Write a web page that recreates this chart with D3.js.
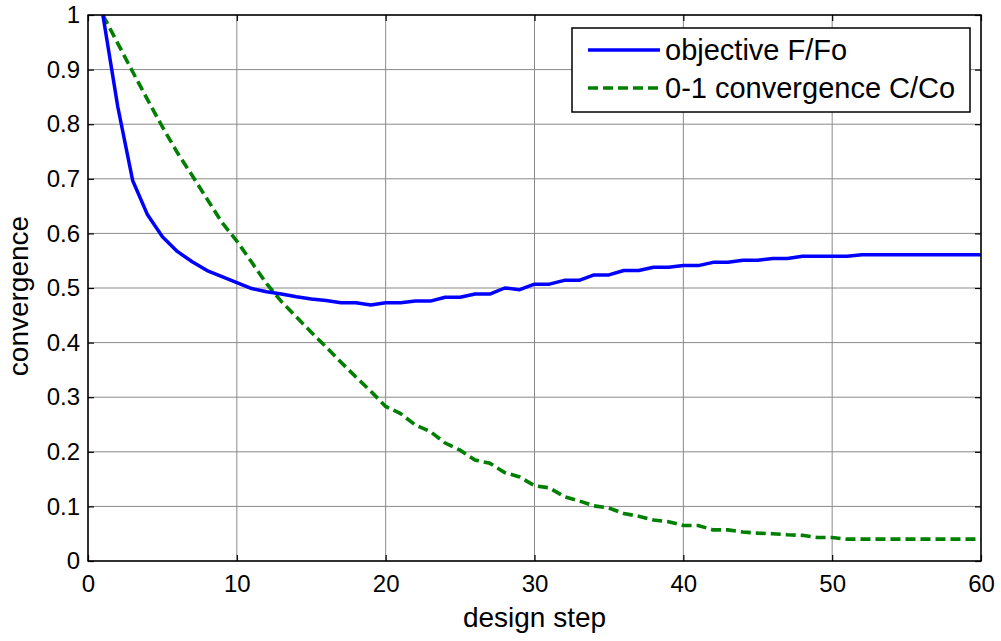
<!DOCTYPE html>
<html>
<head>
<meta charset="utf-8">
<script src="https://cdnjs.cloudflare.com/ajax/libs/d3/7.8.5/d3.min.js"></script>
<style>
  body { margin: 0; background: #fff; }
  text { font-family: "Liberation Sans", Arial, sans-serif; fill: #000; }
</style>
</head>
<body>
<div class="chart"></div>
<script>
var svgWidth = 1001;
var svgHeight = 641;

var margin = { top: 15, right: 20, bottom: 80, left: 88 };
var width = 981 - margin.left;
var height = 561 - margin.top;

// design steps 1..60
var steps = d3.range(1, 61);

// objective F/Fo
var objective = [
  1.000, 0.832, 0.697, 0.634, 0.594, 0.567, 0.548, 0.532, 0.521, 0.510,
  0.499, 0.493, 0.489, 0.484, 0.480, 0.477, 0.473, 0.473, 0.469, 0.473,
  0.473, 0.476, 0.476, 0.483, 0.483, 0.489, 0.489, 0.500, 0.497, 0.507,
  0.507, 0.514, 0.514, 0.524, 0.524, 0.532, 0.532, 0.538, 0.538, 0.541,
  0.541, 0.547, 0.547, 0.551, 0.551, 0.554, 0.554, 0.558, 0.558, 0.558,
  0.558, 0.561, 0.561, 0.561, 0.561, 0.561, 0.561, 0.561, 0.561, 0.561
];

// 0-1 convergence C/Co
var convergence = [
  1.000, 0.948, 0.896, 0.845, 0.795, 0.748, 0.706, 0.663, 0.620, 0.586,
  0.547, 0.508, 0.475, 0.447, 0.419, 0.392, 0.364, 0.337, 0.311, 0.283,
  0.270, 0.249, 0.237, 0.216, 0.203, 0.185, 0.179, 0.162, 0.154, 0.138,
  0.134, 0.118, 0.110, 0.101, 0.097, 0.087, 0.082, 0.075, 0.072, 0.065,
  0.065, 0.057, 0.057, 0.053, 0.051, 0.050, 0.048, 0.047, 0.043, 0.043,
  0.040, 0.040, 0.040, 0.040, 0.040, 0.040, 0.040, 0.040, 0.040, 0.040
];

var xTicks = [0, 10, 20, 30, 40, 50, 60];
var yTicks = [0, 0.1, 0.2, 0.3, 0.4, 0.5, 0.6, 0.7, 0.8, 0.9, 1];

var seriesNames = ["objective F/Fo", "0-1 convergence C/Co"];

var svg = d3.select(".chart")
  .append("svg")
  .attr("width", svgWidth)
  .attr("height", svgHeight);

var chartGroup = svg.append("g")
  .attr("transform", `translate(${margin.left}, ${margin.top})`);

var xScale = d3.scaleLinear().domain([0, 60]).range([0, width]);
var yScale = d3.scaleLinear().domain([0, 1]).range([height, 0]);

// grid lines
chartGroup.append("g")
  .selectAll("line")
  .data(xTicks)
  .enter()
  .append("line")
  .attr("x1", d => xScale(d)).attr("x2", d => xScale(d))
  .attr("y1", 0).attr("y2", height)
  .attr("stroke", "#8a8a8a")
  .attr("stroke-width", 1);

chartGroup.append("g")
  .selectAll("line")
  .data(yTicks)
  .enter()
  .append("line")
  .attr("x1", 0).attr("x2", width)
  .attr("y1", d => yScale(d)).attr("y2", d => yScale(d))
  .attr("stroke", "#8a8a8a")
  .attr("stroke-width", 1);

// axes with inward ticks
var bottomAxis = d3.axisBottom(xScale).tickValues(xTicks).tickSize(-6).tickPadding(14);
var leftAxis = d3.axisLeft(yScale).tickValues(yTicks).tickSize(-6).tickPadding(8)
  .tickFormat(d => d === 1 ? "1" : d === 0 ? "0" : d3.format(".1f")(d));
var topAxis = d3.axisTop(xScale).tickValues(xTicks).tickSize(-6).tickFormat("");
var rightAxis = d3.axisRight(yScale).tickValues(yTicks).tickSize(-6).tickFormat("");

function styleAxis(g) {
  g.attr("font-size", 24).attr("font-family", "Liberation Sans, Arial, sans-serif");
  g.select(".domain").remove();
  g.selectAll(".tick line").attr("stroke", "#000").attr("stroke-width", 1.2);
  g.selectAll(".tick text").attr("font-size", 24);
}

chartGroup.append("g").attr("transform", `translate(0, ${height})`).call(bottomAxis).call(styleAxis);
chartGroup.append("g").call(leftAxis).call(styleAxis);
chartGroup.append("g").call(topAxis).call(styleAxis);
chartGroup.append("g").attr("transform", `translate(${width}, 0)`).call(rightAxis).call(styleAxis);

// data lines
var line = d3.line()
  .x((d, i) => xScale(steps[i]))
  .y(d => yScale(d));

chartGroup.append("path")
  .datum(convergence)
  .attr("d", line)
  .attr("fill", "none")
  .attr("stroke", "#007f00")
  .attr("stroke-width", 3.6)
  .attr("stroke-dasharray", "10,5");

chartGroup.append("path")
  .datum(objective)
  .attr("d", line)
  .attr("fill", "none")
  .attr("stroke", "#0000ff")
  .attr("stroke-width", 3.5)
  .attr("stroke-linejoin", "round");

// box
chartGroup.append("rect")
  .attr("x", 0).attr("y", 0)
  .attr("width", width).attr("height", height)
  .attr("fill", "none")
  .attr("stroke", "#000")
  .attr("stroke-width", 1.5);

// axis labels
svg.append("text")
  .attr("x", (88 + 981) / 2)
  .attr("y", 627)
  .attr("text-anchor", "middle")
  .style("font-size", "28px")
  .text("design step");

svg.append("text")
  .attr("transform", `translate(28, ${(15 + 561) / 2 + 8}) rotate(-90)`)
  .attr("text-anchor", "middle")
  .style("font-size", "28px")
  .text("convergence");

// legend
var legend = svg.append("g");
legend.append("rect")
  .attr("x", 572).attr("y", 28)
  .attr("width", 398).attr("height", 84)
  .attr("fill", "#fff")
  .attr("stroke", "#000")
  .attr("stroke-width", 1.5);

var legendStyles = [
  { color: "#0000ff", dash: null, w: 3.5 },
  { color: "#007f00", dash: "10,5", w: 3.6 }
];

seriesNames.forEach(function(name, i) {
  var y = 50 + i * 38;
  legend.append("line")
    .attr("x1", 588).attr("x2", 660)
    .attr("y1", y).attr("y2", y)
    .attr("stroke", legendStyles[i].color)
    .attr("stroke-width", legendStyles[i].w)
    .attr("stroke-dasharray", legendStyles[i].dash);
  legend.append("text")
    .attr("x", 665)
    .attr("y", y + 10)
    .style("font-size", "29px")
    .text(name);
});
</script>
</body>
</html>
